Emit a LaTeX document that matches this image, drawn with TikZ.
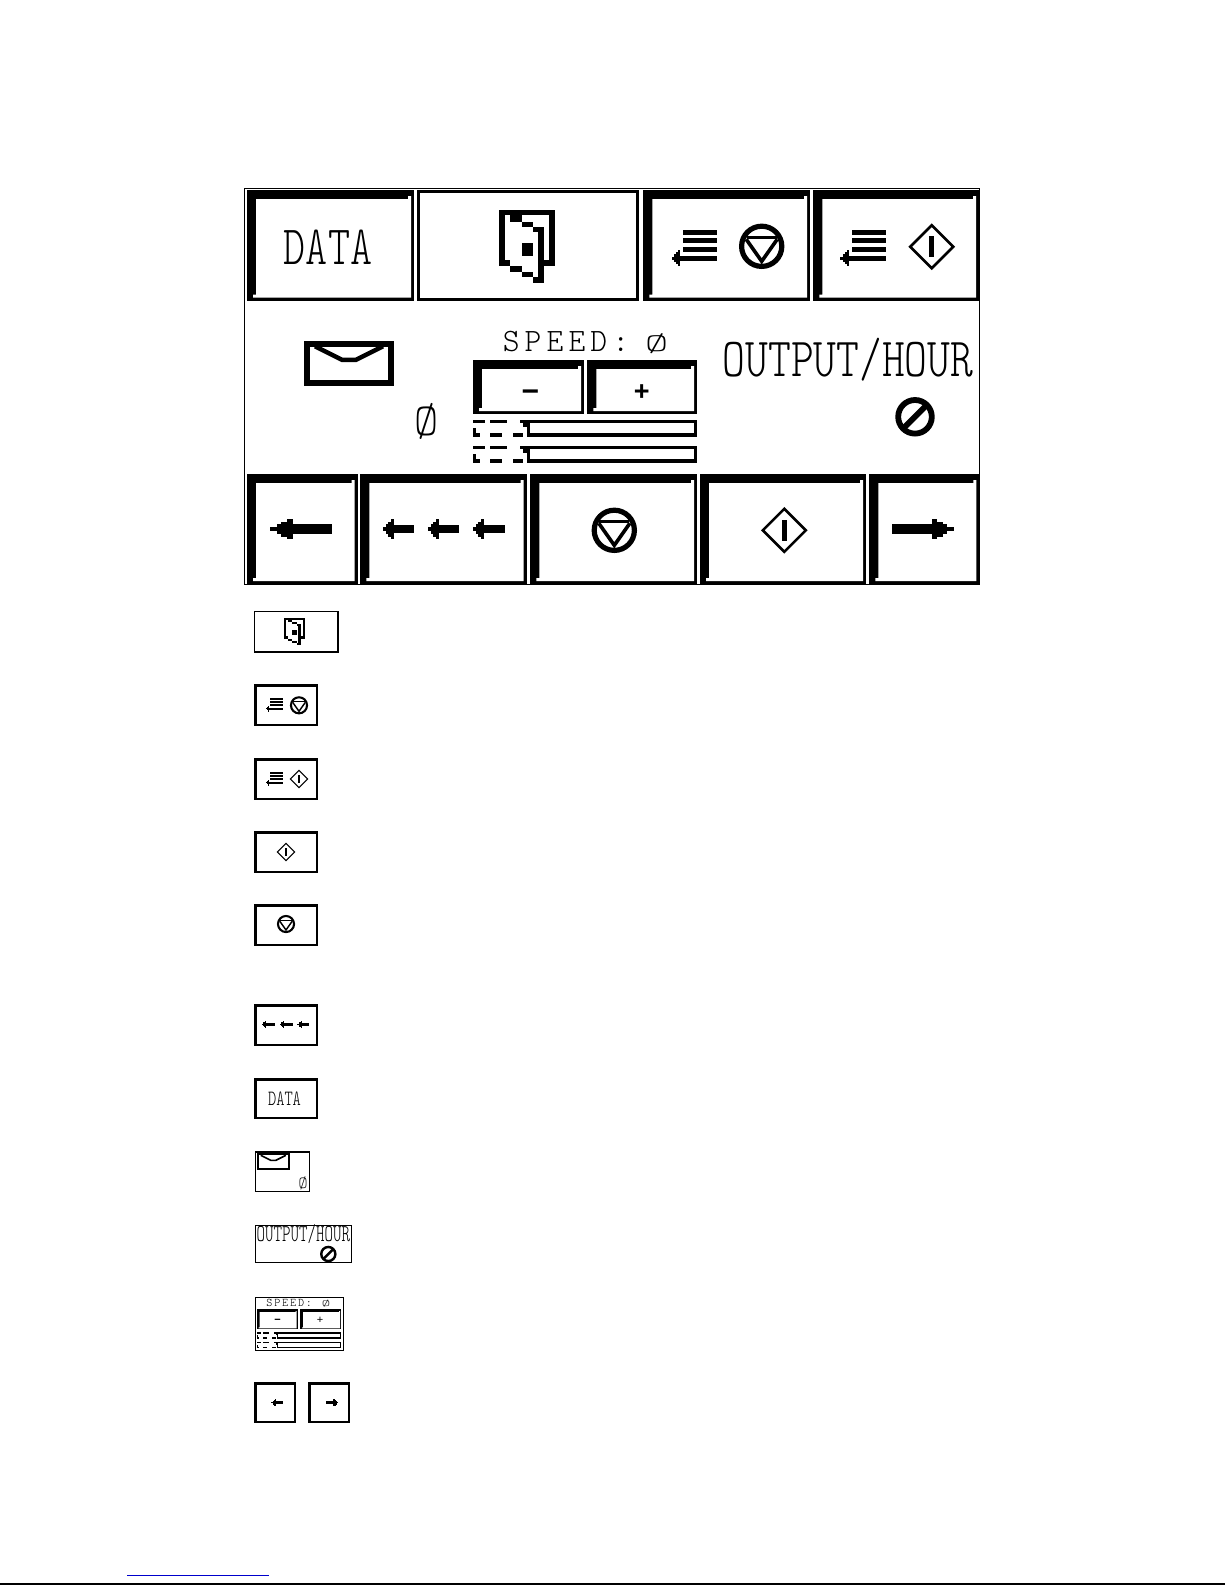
\documentclass[tikz,border=0pt]{standalone}
\usepackage{graphicx}
\usepackage{fontspec}
\setmonofont{Latin Modern Mono Light}
\setsansfont{Liberation Sans}
\usetikzlibrary{calc}
\tikzset{
  x=1pt,y=-1pt,
  ink/.style={draw=black,line cap=butt,line join=miter},
  label text/.style={inner sep=0pt,outer sep=0pt,anchor=base,text=black},
  sign text/.style={inner sep=0pt,outer sep=0pt,anchor=center,text=black}
}
% bevelled button: x0 y0 x1 y1 thick(top/left) thin(right/bottom)
\newcommand{\bevel}[6]{%
  \fill[black] (#1,#2) rectangle (#3,#4);
  \fill[white] ({#1+#5},{#2+#5}) -- ({#3-#6-#6},{#2+#5}) -- ({#3-#6-#6},{#2+#5-#6}) -- ({#3-#6},{#2+#5-#6})
     -- ({#3-#6},{#4-#6}) -- ({#1+#5-#6},{#4-#6}) -- ({#1+#5-#6},{#4-#6-#6}) -- ({#1+#5},{#4-#6-#6}) -- cycle;
}
% plain box with separate top-left and bottom-right weight
\newcommand{\flatbtn}[6]{%
  \fill[black] (#1,#2) rectangle (#3,#4);
  \fill[white] ({#1+#5},{#2+#5}) rectangle ({#3-#6},{#4-#6});
}
\newcommand{\stopicon}[3]{%
  \begin{scope}[shift={(#1,#2)},scale=#3]
    \draw[ink,line width=#3*5.2pt] (0,0) circle (20.1);
    \draw[ink,line width=#3*3pt] (-15,-9) -- (15,-9);
    \draw[ink,line width=#3*3.6pt] (-15.5,-7) -- (0,15) -- (15.5,-7);
  \end{scope}}
\newcommand{\starticon}[3]{%
  \begin{scope}[shift={(#1,#2)},scale=#3]
    \draw[ink,line width=#3*2.6pt] (0,-21.5) -- (21.5,0) -- (0,21.5) -- (-21.5,0) -- cycle;
    \fill[black] (-2.3,-10.7) rectangle (2.3,10.7);
  \end{scope}}
% origin = right end of list bars, top row
\newcommand{\listicon}[3]{%
  \begin{scope}[shift={(#1,#2)},scale=#3]
    \fill[black] (-34,-2.4) rectangle (0,2.4);
    \fill[black] (-34,6) rectangle (0,10.8);
    \fill[black] (-34,14.6) rectangle (0,19.4);
    \fill[black] (-43,23.6) rectangle (0,28.4);
    \fill[black] (-45.6,24.4) rectangle (-43,27.6);
    \fill[black] (-43,22) rectangle (-41,30);
    \fill[black] (-41,20) rectangle (-39,32);
    \fill[black] (-39,18) rectangle (-37,34);
  \end{scope}}
% origin = centre of door, stepped outline
\newcommand{\dooricon}[3]{%
  \begin{scope}[shift={(#1,#2)},scale=#3]
    \fill[black] (-28,-38.5) rectangle (28,-33.5);
    \fill[black] (-28,-38.5) rectangle (-22,17.2);
    \fill[black] (22.3,-38.5) rectangle (28,17.2);
    \fill[black] (17,11.5) rectangle (28,17.2);
    \fill[black] (-28,11.5) rectangle (-17,17.2);
    \fill[black] (-17,17.2) rectangle (-5.3,23.2);
    \fill[black] (-5.3,23.2) rectangle (6.3,28.8);
    \fill[black] (6.3,28.8) rectangle (17,34.8);
    \fill[black] (11.3,-21.8) rectangle (17,34.8);
    \fill[black] (-17,-33.5) rectangle (-5.3,-26.8);
    \fill[black] (-5.3,-26.8) rectangle (6.3,-21.8);
    \fill[black] (6.3,-21.8) rectangle (17,-16.2);
    \fill[black] (-5.3,-5.2) rectangle (6.3,7.2);
  \end{scope}}
% origin = centre of envelope
\newcommand{\envelope}[3]{%
  \begin{scope}[shift={(#1,#2)},scale=#3]
    \draw[ink,line width=#3*5.6pt] (-42.2,-19.5) rectangle (42.2,19.5);
    \draw[ink,line width=#3*4.4pt] (-34,-17) -- (-20,-10) -- (-7,-3.5) -- (7,-3.5) -- (20,-10) -- (34,-17);
  \end{scope}}
% origin = centre of the heavy slashed circle
\newcommand{\zerosign}[3]{%
  \begin{scope}[shift={(#1,#2)},scale=#3]
    \draw[ink,line width=#3*5.8pt] (0,0) circle (16.8);
    \draw[ink,line width=#3*5.8pt] (-11,11) -- (11,-11);
  \end{scope}}
% origin = top-left of gauge; full size 224 x 16.7
\newcommand{\gauge}[3]{%
  \begin{scope}[shift={(#1,#2)},scale=#3]
    \draw[ink,line width=#3*3.3pt] (55.4,1.65) rectangle (222.4,15.05);
    \fill[black] (0.3,0) rectangle (12,3.3);
    \fill[black] (17,0) rectangle (33.7,3.3);
    \fill[black] (47,0) rectangle (55,3.3);
    \fill[black] (50,3.3) rectangle (57,6.5);
    \fill[black] (17,13.3) rectangle (28.7,16.7);
    \fill[black] (40.3,13.3) rectangle (50.3,16.7);
    \fill[black] (0.3,8.3) rectangle (3,16.7);
    \fill[black] (3,13.3) rectangle (7,16.7);
  \end{scope}}
% stepped arrow: tip x, y, tail x, head-rear x, shaft, head height
\newcommand{\solidarrow}[6]{%
  \fill[black] (#3,{#2-#5/2}) rectangle (#4,{#2+#5/2});
  \fill[black] (#1,{#2-#6*0.085}) rectangle ({#1+0.3*(#4-#1)},{#2+#6*0.085});
  \fill[black] ({#1+0.3*(#4-#1)},{#2-#6*0.25}) rectangle ({#1+0.5*(#4-#1)},{#2+#6*0.25});
  \fill[black] ({#1+0.5*(#4-#1)},{#2-#6*0.375}) rectangle ({#1+0.75*(#4-#1)},{#2+#6*0.375});
  \fill[black] ({#1+0.75*(#4-#1)},{#2-#6*0.5}) rectangle (#4,{#2+#6*0.5});
}
\newcommand{\monotext}[6]{%
  \node[label text] (#1) at (#2,#3) {\scalebox{1}[#5]{\fontsize{#4}{#4}\selectfont\ttfamily #6}};
}
\newcommand{\spacedtext}[6]{%
  \node[label text] (#1) at (#2,#3) {\scalebox{1}[#5]{\fontsize{#4}{#4}\selectfont\ttfamily\addfontfeatures{LetterSpace=16} #6}};
}
\begin{document}
\begin{tikzpicture}
\useasboundingbox (0,0) rectangle (1225,1585);
\fill[white] (0,0) rectangle (1225,1585);

% main panel
\draw[ink,line width=1pt] (244.3,188.3) rectangle (979.3,584);

% top row
\bevel{247}{190}{414}{300.7}{9}{3}
\flatbtn{417.3}{190}{639.3}{300.7}{3}{3}
\bevel{643.3}{190}{810}{300.7}{9}{3}
\bevel{813.3}{190}{979}{300.7}{9}{3}
\monotext{dataBig}{328}{264}{42}{1.32}{DATA}
\dooricon{527}{248.5}{1}
\listicon{717.3}{232.3}{1}
\stopicon{761.7}{246.3}{1}
\listicon{886}{232.3}{1}
\starticon{931.7}{246.7}{1}

% middle band
\envelope{349}{363.3}{1}
\monotext{zeroBig}{426.7}{435}{46}{1.0}{Ø}
\spacedtext{speedBig}{566}{351.7}{32}{1.02}{SPEED:}
\monotext{speedZeroBig}{656.7}{351.3}{44}{0.58}{Ø}
\bevel{473}{360}{584}{414}{9}{3}
\bevel{587.3}{360}{697}{414}{9}{3}
\node[sign text,font=\sffamily\bfseries\fontsize{30}{30}\selectfont] (minusBig) at (530.3,396) {−};
\node[sign text,font=\sffamily\bfseries\fontsize{27}{27}\selectfont] (plusBig) at (641.7,393) {+};
\gauge{473}{420}{1}
\gauge{473}{446}{1}
\monotext{outputBig}{848}{376.7}{43.4}{1.27}{OUTPUT/HOUR}
\zerosign{915}{416.8}{1}

% bottom row
\bevel{247}{474}{357.7}{584}{9}{3}
\bevel{360.3}{474}{526.7}{584}{9}{3}
\bevel{530.3}{474}{697}{584}{9}{3}
\bevel{700}{474}{866}{584}{9}{3}
\bevel{869.3}{474}{979.3}{584}{9}{3}
\solidarrow{270}{529}{332.3}{292.7}{9.6}{20}
\solidarrow{383.3}{529}{414}{393.5}{8}{20}
\solidarrow{428.3}{529}{459}{438.5}{8}{20}
\solidarrow{473.3}{529}{505}{483.5}{8}{20}
\stopicon{614.3}{530.3}{1}
\starticon{784.3}{530.3}{1}
\solidarrow{954}{529}{892}{931.7}{9.6}{20}

% legend
\flatbtn{254}{611}{339}{652.7}{1.4}{2}
\dooricon{294.3}{632.2}{0.37}

\flatbtn{254}{684}{317.7}{725.7}{2.6}{2}
\listicon{282.7}{699}{0.37}
\stopicon{299}{705.3}{0.4}

\flatbtn{254}{758}{317.7}{799.7}{2.6}{2}
\listicon{282.7}{773}{0.37}
\starticon{299}{779}{0.4}

\flatbtn{254}{831}{317.7}{872.7}{2.6}{2}
\starticon{286}{852}{0.4}

\flatbtn{254}{904}{317.7}{945.7}{2.6}{2}
\stopicon{286}{924}{0.4}

\flatbtn{254}{1004}{317.7}{1045.7}{2.6}{2}
\solidarrow{261.7}{1024.3}{275}{266}{3}{7.5}
\solidarrow{280}{1024.3}{292.7}{284.3}{3}{7.5}
\solidarrow{297.3}{1024.3}{309.3}{301.6}{3}{7.5}

\flatbtn{254}{1078}{317.7}{1118.7}{2.6}{2}
\monotext{dataSmall}{284.5}{1105}{15.7}{1.39}{DATA}

\flatbtn{255}{1151.3}{310}{1191.7}{1.2}{1.2}
\envelope{273.3}{1161.6}{0.37}
\monotext{zeroSmall}{303}{1188.5}{17}{1.0}{Ø}

\flatbtn{255}{1225}{351.7}{1263.3}{1.2}{1.2}
\monotext{outputSmall}{303.3}{1241.7}{16.2}{1.5}{OUTPUT/HOUR}
\zerosign{328.3}{1254}{0.42}

\flatbtn{255}{1296.7}{344.3}{1350.7}{1.2}{1.2}
\spacedtext{speedSmall}{289.2}{1306.5}{11.5}{1.02}{SPEED:}
\monotext{speedZeroSmall}{326}{1306.4}{16}{0.58}{Ø}
\bevel{256.7}{1309}{297.7}{1329.3}{3}{1}
\bevel{300}{1309}{341}{1329.3}{3}{1}
\node[sign text,font=\sffamily\bfseries\fontsize{11}{11}\selectfont] (minusSmall) at (277.5,1321.5) {−};
\node[sign text,font=\sffamily\fontsize{11}{11}\selectfont] (plusSmall) at (320,1320.5) {+};
\gauge{256.7}{1332.3}{0.376}
\gauge{256.7}{1342.2}{0.376}

\flatbtn{254}{1382.3}{295.7}{1423.3}{2.6}{2}
\solidarrow{271}{1402.7}{283.3}{276}{3.4}{7.5}
\flatbtn{308.3}{1382.3}{350}{1423.3}{2.6}{2}
\solidarrow{338.3}{1402.7}{326}{333.3}{3.4}{7.5}

% page foot
\draw[line width=1pt,draw={rgb,255:red,0;green,0;blue,204}] (127,1575) -- (268.7,1575);
\draw[line width=1.2pt,black] (0,1584) -- (1225,1584);
\end{tikzpicture}
\end{document}
